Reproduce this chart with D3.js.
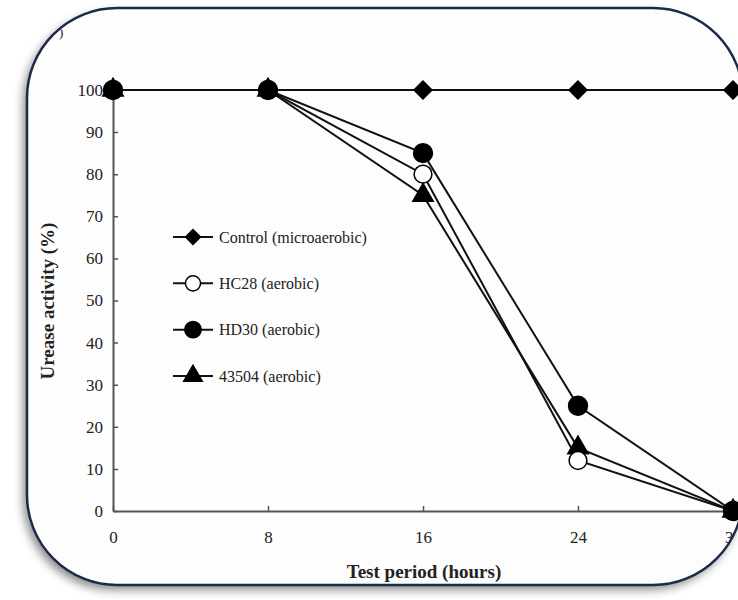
<!DOCTYPE html>
<html>
<head>
<meta charset="utf-8">
<script src="https://cdn.jsdelivr.net/npm/d3@7"></script>
<style>
  body { margin: 0; background: #fff; }
  text { font-family: "Liberation Serif", "Times New Roman", serif; fill: #222; }
</style>
</head>
<body>
<div id="chart"></div>
<script>
// data
var hours = [0, 8, 16, 24, 32];
var control = [100, 100, 100, 100, 100];
var hc28 = [100, 100, 80, 12, 0];
var hd30 = [100, 100, 85, 25, 0];
var s43504 = [100, 100, 75, 15, 0];
var yTicks = [0, 10, 20, 30, 40, 50, 60, 70, 80, 90, 100];
var seriesNames = ['Control (microaerobic)', 'HC28 (aerobic)', 'HD30 (aerobic)', '43504 (aerobic)'];

var svgWidth = 738;
var svgHeight = 600;

var svg = d3
  .select('#chart')
  .append('svg')
  .attr('width', svgWidth)
  .attr('height', svgHeight);

var defs = svg.append('defs');

var shadow = defs.append('filter')
  .attr('id', 'shadow')
  .attr('x', '-10%').attr('y', '-10%')
  .attr('width', '120%').attr('height', '120%');
shadow.append('feDropShadow')
  .attr('dx', -4).attr('dy', 5)
  .attr('stdDeviation', 5)
  .attr('flood-color', '#000')
  .attr('flood-opacity', 0.45);

var frame = { x: 27, y: 8, w: 716, h: 577, r: 90 };

defs.append('clipPath').attr('id', 'frameClip')
  .append('rect')
  .attr('x', frame.x).attr('y', frame.y)
  .attr('width', frame.w).attr('height', frame.h)
  .attr('rx', frame.r).attr('ry', frame.r);

// card background with shadow
svg.append('rect')
  .attr('x', frame.x).attr('y', frame.y)
  .attr('width', frame.w).attr('height', frame.h)
  .attr('rx', frame.r).attr('ry', frame.r)
  .attr('fill', '#fdfdfd')
  .attr('filter', 'url(#shadow)');

var chartGroup = svg.append('g').attr('clip-path', 'url(#frameClip)');

// scales
var x = d3.scaleLinear().domain([0, 32]).range([113, 733]);
var y = d3.scaleLinear().domain([0, 100]).range([511, 90]);

// axes
var bottomAxis = d3.axisBottom(x).tickValues(hours).tickSize(-5).tickPadding(20).tickSizeOuter(0);
var leftAxis = d3.axisLeft(y).tickValues(yTicks).tickSize(-5).tickPadding(12).tickSizeOuter(0);

var xAxis = chartGroup.append('g')
  .attr('transform', 'translate(0,' + y(0) + ')')
  .call(bottomAxis);
var yAxis = chartGroup.append('g')
  .attr('transform', 'translate(' + x(0) + ',0)')
  .call(leftAxis);

[xAxis, yAxis].forEach(function (a) {
  a.attr('font-size', 17).attr('font-family', '"Liberation Serif", serif');
  a.select('.domain').attr('stroke', '#555').attr('stroke-width', 2);
  a.selectAll('.tick line').attr('stroke', '#555').attr('stroke-width', 1.5);
  a.selectAll('.tick text').attr('fill', '#222');
});
xAxis.selectAll('.tick text').attr('dy', '0.71em');
yAxis.selectAll('.tick text').attr('dx', 2);

// axis titles
chartGroup.append('text')
  .attr('x', 424).attr('y', 578)
  .attr('text-anchor', 'middle')
  .attr('font-size', 19)
  .attr('font-weight', 'bold')
  .text('Test period (hours)');

chartGroup.append('text')
  .attr('transform', 'translate(54,301) rotate(-90)')
  .attr('text-anchor', 'middle')
  .attr('font-size', 19)
  .attr('font-weight', 'bold')
  .text('Urease activity (%)');

// series
var series = [
  { name: seriesNames[0], values: control, shape: d3.symbolSquare, rot: 45, size: 160, fill: '#000' },
  { name: seriesNames[3], values: s43504, shape: d3.symbolTriangle, rot: 0, size: 180, fill: '#000' },
  { name: seriesNames[1], values: hc28, shape: d3.symbolCircle, rot: 0, size: 250, fill: '#fff' },
  { name: seriesNames[2], values: hd30, shape: d3.symbolCircle, rot: 0, size: 280, fill: '#000' }
];

var line = d3.line()
  .x(function (d, i) { return x(hours[i]); })
  .y(function (d) { return y(d); });

series.forEach(function (s) {
  chartGroup.append('path')
    .datum(s.values)
    .attr('d', line)
    .attr('fill', 'none')
    .attr('stroke', '#111')
    .attr('stroke-width', 2);
});

series.forEach(function (s) {
  chartGroup.selectAll(null)
    .data(s.values)
    .enter()
    .append('path')
    .attr('transform', function (d, i) {
      return 'translate(' + x(hours[i]) + ',' + y(d) + ') rotate(' + s.rot + ')';
    })
    .attr('d', d3.symbol().type(s.shape).size(s.size))
    .attr('fill', s.fill)
    .attr('stroke', '#000')
    .attr('stroke-width', 1.5);
});

// legend
var legendItems = [
  { name: seriesNames[0], shape: d3.symbolSquare, rot: 45, size: 110, fill: '#000' },
  { name: seriesNames[1], shape: d3.symbolCircle, rot: 0, size: 180, fill: '#fff' },
  { name: seriesNames[2], shape: d3.symbolCircle, rot: 0, size: 210, fill: '#000' },
  { name: seriesNames[3], shape: d3.symbolTriangle, rot: 0, size: 150, fill: '#000' }
];
var legendY = d3.scalePoint().domain(d3.range(legendItems.length)).range([237, 376]);

var legend = chartGroup.append('g');
legendItems.forEach(function (item, i) {
  var ly = legendY(i);
  legend.append('line')
    .attr('x1', 173).attr('x2', 213)
    .attr('y1', ly).attr('y2', ly)
    .attr('stroke', '#111').attr('stroke-width', 2);
  legend.append('path')
    .attr('transform', 'translate(193,' + ly + ') rotate(' + item.rot + ')')
    .attr('d', d3.symbol().type(item.shape).size(item.size))
    .attr('fill', item.fill)
    .attr('stroke', '#000')
    .attr('stroke-width', 1.5);
  legend.append('text')
    .attr('x', 219).attr('y', ly)
    .attr('dy', '0.35em')
    .attr('font-size', 16)
    .text(item.name);
});

// small cut-off glyph in the top-left corner
chartGroup.append('text')
  .attr('x', 59).attr('y', 37)
  .attr('font-size', 13)
  .attr('fill', '#666')
  .text(')');

// frame outline
svg.append('rect')
  .attr('x', frame.x).attr('y', frame.y)
  .attr('width', frame.w).attr('height', frame.h)
  .attr('rx', frame.r).attr('ry', frame.r)
  .attr('fill', 'none')
  .attr('stroke', '#1b2b47')
  .attr('stroke-width', 2.5);
</script>
</body>
</html>
